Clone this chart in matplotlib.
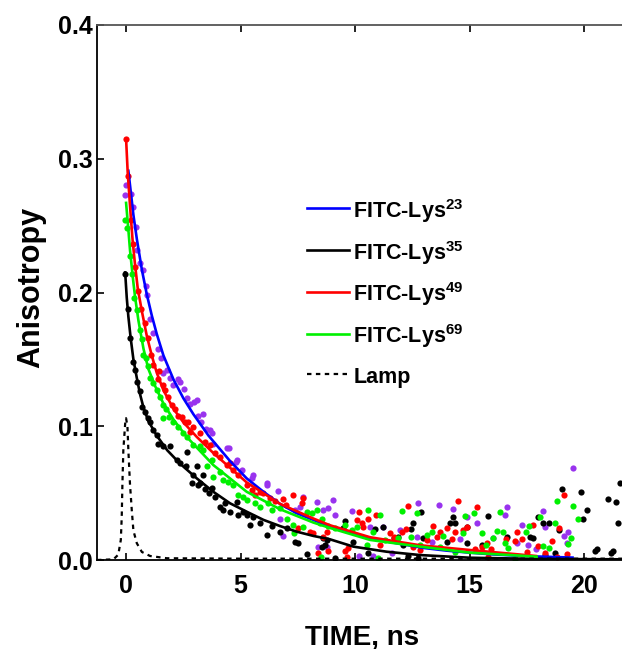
import matplotlib
matplotlib.use("Agg")
import matplotlib.pyplot as plt

plt.rcParams['font.family'] = ['Liberation Sans', 'DejaVu Sans']
plt.rcParams['font.weight'] = 'bold'
plt.rcParams['mathtext.fontset'] = 'custom'
plt.rcParams['mathtext.rm'] = 'Liberation Sans:bold'
plt.rcParams['mathtext.it'] = 'Liberation Sans:bold'
plt.rcParams['mathtext.bf'] = 'Liberation Sans:bold'

# ===============================
# FITTED CURVES
# ===============================
fit23_t = [0.1, 0.32, 0.47, 0.69, 0.9, 1.12, 1.34, 1.63, 2.07, 2.5, 2.94, 3.6, 4.54,
           5.27, 6.0, 6.72, 7.45, 8.18, 8.9, 10.0, 11.0, 12.0, 13.0, 14.0, 15.0,
           16.0, 17.0, 18.0, 19.5]
fit23_r = [0.291, 0.258, 0.240, 0.217, 0.199, 0.183, 0.169, 0.153, 0.135, 0.121,
           0.109, 0.093, 0.074, 0.061, 0.051, 0.042, 0.035, 0.030, 0.025, 0.019,
           0.015, 0.012, 0.009, 0.007, 0.0055, 0.0042, 0.0033, 0.0026, 0.0018]

fit35_t = [-0.04, 0.03, 0.1, 0.2, 0.32, 0.47, 0.61, 0.76, 0.97, 1.34, 1.8, 2.36,
           3.09, 3.81, 4.54, 5.27, 6.0, 6.72, 7.45, 8.18, 8.9, 9.93, 11.38, 12.84,
           15.0, 18.0, 21.7]
fit35_r = [0.215, 0.196, 0.182, 0.166, 0.150, 0.136, 0.124, 0.114, 0.104, 0.093,
           0.082, 0.072, 0.061, 0.051, 0.0424, 0.0361, 0.030, 0.0254, 0.0212,
           0.018, 0.0155, 0.010, 0.0062, 0.0037, 0.0017, 0.0008, 0.0005]

fit49_t = [0.0, 0.07, 0.2, 0.29, 0.39, 0.51, 0.69, 0.9, 1.12, 1.34, 1.63, 2.07, 2.5,
           3.09, 3.81, 5.27, 6.72, 8.18, 8.9, 10.66, 12.84, 15.0, 17.9]
fit49_r = [0.315, 0.290, 0.258, 0.238, 0.221, 0.203, 0.186, 0.168, 0.153, 0.140,
           0.127, 0.113, 0.103, 0.092, 0.080, 0.058, 0.042, 0.031, 0.026, 0.017,
           0.011, 0.0075, 0.003]

fit69_t = [0.0, 0.1, 0.17, 0.29, 0.39, 0.54, 0.76, 0.97, 1.27, 1.63, 2.07, 2.65,
           3.81, 5.27, 6.72, 8.18, 8.9, 10.66, 12.84, 15.0, 17.93]
fit69_r = [0.267, 0.247, 0.232, 0.212, 0.197, 0.179, 0.158, 0.143, 0.130, 0.117,
           0.105, 0.092, 0.071, 0.051, 0.038, 0.028, 0.024, 0.015, 0.010, 0.0055,
           0.0025]

lamp_t = [-1.27, -0.55, -0.34, -0.23, -0.19, -0.16, -0.12, -0.04, 0.0, 0.06, 0.1,
          0.17, 0.25, 0.32, 0.47, 0.69, 1.05, 1.78, 5.0, 10.0, 15.0, 21.7]
lamp_r = [0.0, 0.0005, 0.004, 0.015, 0.032, 0.057, 0.082, 0.102, 0.106, 0.0998,
          0.082, 0.057, 0.037, 0.022, 0.0125, 0.006, 0.003, 0.0013, 0.001, 0.001,
          0.001, 0.001]

# ===============================
# MEASURED POINTS
# ===============================
pts23_t = [0.0, -0.04, 0.2, 0.32, 0.44, 0.49, 0.61, 0.73, 0.87, 0.93, 1.05, 1.19,
           1.41, 1.51, 1.63, 1.78, 1.92, 2.07, 2.28, 2.36, 2.53, 2.68, 2.79, 2.97,
           3.09, 3.16, 3.26, 3.38, 3.49, 3.67, 3.74, 3.81, 4.4, 4.51, 4.8, 4.83,
           5.05, 5.49, 5.56, 6.14, 6.17, 6.65, 6.72, 6.87, 7.38, 7.6, 7.74, 8.33,
           8.4, 8.62, 8.76, 8.83, 9.05, 9.13, 9.86, 10.19, 10.66, 10.8, 11.24,
           11.6, 11.97, 12.7, 12.74, 13.35, 13.67, 14.3, 14.59, 14.88, 15.31,
           16.04, 16.56, 16.65, 17.09, 17.28, 17.57, 17.9, 18.2, 18.31, 19.13,
           19.24, 19.31, 19.53]
pts23_r = [0.280, 0.273, 0.274, 0.264, 0.249, 0.232, 0.222, 0.217, 0.205, 0.198,
           0.180, 0.170, 0.158, 0.151, 0.140, 0.142, 0.136, 0.131, 0.135, 0.133,
           0.128, 0.121, 0.117, 0.118, 0.120, 0.108, 0.103, 0.109, 0.098, 0.097,
           0.095, 0.087, 0.0835, 0.0835, 0.0736, 0.0748, 0.0673, 0.061, 0.0636,
           0.056, 0.0574, 0.0519, 0.031, 0.018, 0.0374, 0.040, 0.047, 0.0436,
           0.010, 0.0374, 0.010, 0.0387, 0.0449, 0.034, 0.0369, 0.003, 0.025,
           0.003, 0.025, 0.005, 0.0224, 0.0175, 0.0424, 0.0137, 0.041, 0.038,
           0.0155, 0.032, 0.028, 0.0162, 0.0334, 0.040, 0.0125, 0.0265, 0.011,
           0.008, 0.0366, 0.025, 0.018, 0.0125, 0.021, 0.0686]

pts35_t = [-0.04, 0.07, 0.17, 0.29, 0.39, 0.47, 0.61, 0.69, 0.83, 0.97, 1.05, 1.19,
           1.34, 1.41, 1.63, 1.92, 2.21, 2.36, 2.6, 2.65, 2.87, 2.94, 3.09, 3.15,
           3.23, 3.38, 3.45, 3.6, 3.74, 3.89, 4.1, 4.25, 4.32, 4.54, 4.83, 4.9,
           5.12, 5.27, 5.41, 5.56, 5.85, 6.14, 6.36, 6.72, 7.02, 7.38, 7.52, 7.89,
           8.55, 8.62, 8.69, 8.76, 9.13, 9.49, 9.56, 9.93, 10.58, 10.87, 11.24,
           11.68, 11.86, 12.11, 12.33, 12.44, 12.55, 12.77, 12.86, 12.96, 14.0,
           14.15, 14.3, 14.37, 14.88, 14.91, 15.53, 15.82, 16.65, 17.64, 17.79,
           18.0, 18.2, 18.3, 18.49, 18.73, 18.92, 19.03, 19.86, 19.97, 20.14,
           20.48, 20.55, 21.06, 21.2, 21.28, 21.4, 21.5, 21.57]
pts35_r = [0.214, 0.188, 0.166, 0.148, 0.142, 0.133, 0.126, 0.1147, 0.111, 0.106,
           0.1035, 0.097, 0.0935, 0.087, 0.085, 0.085, 0.0748, 0.0723, 0.070,
           0.081, 0.0574, 0.0636, 0.070, 0.0561, 0.0574, 0.0636, 0.053, 0.050,
           0.0536, 0.0474, 0.040, 0.0374, 0.0424, 0.0361, 0.0436, 0.0337, 0.0361,
           0.0337, 0.026, 0.0324, 0.0274, 0.0187, 0.0254, 0.0212, 0.0237, 0.0137,
           0.0125, 0.0045, 0.010, 0.0162, 0.0112, 0.015, 0.0012, 0.0237, 0.0294,
           0.0137, 0.005, 0.023, 0.0244, 0.0162, 0.017, 0.0112, 0.003, 0.023,
           0.0274, 0.0012, 0.0361, 0.0162, 0.0137, 0.028, 0.032, 0.028, 0.025,
           0.013, 0.0112, 0.0329, 0.0175, 0.017, 0.0162, 0.032, 0.0274, 0.0037,
           0.0274, 0.0055, 0.0224, 0.0529, 0.0506, 0.0304, 0.0374, 0.007, 0.008,
           0.0453, 0.0055, 0.007, 0.0436, 0.0274, 0.0578]

pts49_t = [0.0, 0.07, 0.2, 0.29, 0.39, 0.51, 0.64, 0.83, 0.97, 1.08, 1.19, 1.4,
           1.45, 1.63, 1.7, 1.85, 2.0, 2.14, 2.28, 2.43, 2.58, 2.72, 2.79, 2.94,
           3.23, 3.45, 3.67, 3.89, 4.1, 4.4, 4.54, 4.69, 4.9, 5.27, 5.49, 5.63,
           5.85, 6.0, 6.3, 6.5, 6.87, 7.0, 7.3, 7.52, 7.67, 7.74, 8.03, 8.18, 8.4,
           8.62, 8.76, 8.8, 9.56, 9.64, 9.71, 10.07, 10.19, 10.29, 10.36, 10.58,
           10.92, 11.09, 11.53, 11.7, 12.04, 12.23, 12.33, 12.55, 12.84, 13.13,
           13.39, 13.57, 13.71, 14.0, 14.22, 14.37, 14.48, 14.73, 14.91, 15.24,
           15.31, 15.53, 15.75, 15.82, 15.94, 16.59, 16.99, 17.06, 17.28, 17.5,
           17.79, 18.0, 18.3, 18.6, 18.8, 18.92, 19.13, 19.24]
pts49_r = [0.315, 0.287, 0.254, 0.236, 0.219, 0.201, 0.188, 0.177, 0.166, 0.153,
           0.146, 0.135, 0.141, 0.131, 0.127, 0.122, 0.116, 0.113, 0.108, 0.107,
           0.1035, 0.103, 0.096, 0.0998, 0.095, 0.0885, 0.086, 0.080, 0.077,
           0.071, 0.0723, 0.0673, 0.0636, 0.0561, 0.0524, 0.0486, 0.051, 0.050,
           0.046, 0.044, 0.0453, 0.041, 0.0486, 0.0237, 0.0424, 0.0461, 0.0212,
           0.020, 0.005, 0.0175, 0.0212, 0.007, 0.007, 0.0025, 0.0087, 0.030,
           0.036, 0.0274, 0.025, 0.0304, 0.0337, 0.0112, 0.020, 0.0175, 0.0212,
           0.023, 0.0404, 0.010, 0.0075, 0.015, 0.0257, 0.0175, 0.0212, 0.0237,
           0.0155, 0.0212, 0.0444, 0.0224, 0.025, 0.008, 0.0394, 0.010, 0.013,
           0.0025, 0.008, 0.0155, 0.0142, 0.0207, 0.0155, 0.0062, 0.026, 0.0105,
           0.0055, 0.0142, 0.0025, 0.0237, 0.0486, 0.0045]

pts69_t = [-0.04, 0.06, 0.17, 0.28, 0.36, 0.47, 0.61, 0.69, 0.76, 0.87, 0.97, 1.05,
           1.19, 1.34, 1.48, 1.6, 1.63, 1.75, 1.89, 2.07, 2.28, 2.5, 2.65, 2.94,
           3.23, 3.38, 3.52, 3.74, 3.81, 4.1, 4.25, 4.47, 4.69, 4.9, 5.12, 5.27,
           5.63, 5.85, 6.21, 6.36, 6.72, 7.02, 7.31, 7.35, 7.74, 7.89, 8.11, 8.33,
           8.47, 8.5, 8.55, 8.83, 9.13, 9.56, 9.86, 10.07, 10.51, 10.58, 10.79,
           11.02, 11.09, 11.31, 11.89, 12.04, 12.45, 12.72, 12.84, 13.13, 13.35,
           13.71, 13.86, 14.37, 14.7, 14.8, 15.2, 15.53, 15.72, 16.04, 16.22,
           16.33, 16.45, 16.55, 16.67, 16.99, 17.47, 17.61, 18.08, 18.22, 18.49,
           18.73, 18.84, 19.31, 19.43, 19.53, 19.75]
pts69_r = [0.254, 0.248, 0.227, 0.214, 0.196, 0.187, 0.172, 0.165, 0.153, 0.151,
           0.145, 0.136, 0.132, 0.127, 0.122, 0.116, 0.106, 0.113, 0.107, 0.1035,
           0.0998, 0.095, 0.092, 0.086, 0.085, 0.082, 0.070, 0.075, 0.062, 0.066,
           0.060, 0.0586, 0.056, 0.0486, 0.047, 0.045, 0.0424, 0.040, 0.0424,
           0.0374, 0.0387, 0.031, 0.026, 0.020, 0.025, 0.0361, 0.0349, 0.0374,
           0.0274, 0.0025, 0.0304, 0.0254, 0.0237, 0.026, 0.0224, 0.025, 0.0112,
           0.0374, 0.0212, 0.0012, 0.0337, 0.015, 0.0162, 0.0369, 0.0175, 0.0349,
           0.0112, 0.0187, 0.0212, 0.0095, 0.018, 0.0062, 0.020, 0.0329, 0.035,
           0.0205, 0.0112, 0.0162, 0.022, 0.036, 0.0212, 0.0125, 0.0087, 0.0005,
           0.0212, 0.0254, 0.032, 0.0105, 0.0087, 0.0274, 0.0441, 0.012, 0.0162,
           0.0404, 0.0304]

# ===============================
# PLOT
# ===============================
fig = plt.figure(figsize=(6.22, 6.49), dpi=100)
ax = fig.add_axes([97 / 622, 89 / 649, 525 / 622, 535 / 649])

dot = dict(s=20, linewidths=0, zorder=2, clip_on=True)
ax.scatter(pts23_t, pts23_r, color='#9933ee', **dot)
ax.scatter(pts35_t, pts35_r, color='black', **dot)
ax.scatter(pts49_t, pts49_r, color='#ff0000', **dot)
ax.scatter(pts69_t, pts69_r, color='#00f000', **dot)

ax.plot(fit23_t, fit23_r, color='#0000ff', lw=1.9, zorder=3, label='FITC-Lys$^{23}$')
ax.plot(fit35_t, fit35_r, color='black', lw=1.9, zorder=3, label='FITC-Lys$^{35}$')
ax.plot(fit49_t, fit49_r, color='#ff0000', lw=1.9, zorder=3, label='FITC-Lys$^{49}$')
ax.plot(fit69_t, fit69_r, color='#00f000', lw=1.9, zorder=3, label='FITC-Lys$^{69}$')
ax.plot(lamp_t, lamp_r, color='black', lw=1.6, ls=(0, (2, 2)), zorder=3, label='Lamp')

ax.set_xlim(-1.27, 21.66)
ax.set_ylim(0.0, 0.4)
ax.set_xticks([0, 5, 10, 15, 20])
ax.set_yticks([0.0, 0.1, 0.2, 0.3, 0.4])
ax.set_yticklabels(['0.0', '0.1', '0.2', '0.3', '0.4'])

ax.tick_params(axis='both', direction='in', length=5, width=1.2, labelsize=18)
ax.tick_params(axis='x', top=True, pad=10)
ax.tick_params(axis='y', pad=3)
ax.spines['right'].set_visible(False)
ax.spines['top'].set_color('#555555')
for s in ['left', 'bottom', 'top']:
    ax.spines[s].set_linewidth(1.3)

ax.set_xlabel('TIME, ns', fontsize=20, fontweight='bold')
ax.xaxis.set_label_coords(0.505, -0.12)
ax.set_ylabel('Anisotropy', fontsize=22, fontweight='bold')
ax.yaxis.set_label_coords(-0.097, 0.51)

ax.legend(loc='upper left', bbox_to_anchor=(0.4, 0.679), frameon=False,
          fontsize=15.5, handlelength=1.95, handleheight=1.3, handletextpad=0.2,
          labelspacing=0.65, borderaxespad=0, borderpad=0)

plt.savefig('out.png', dpi=100)
